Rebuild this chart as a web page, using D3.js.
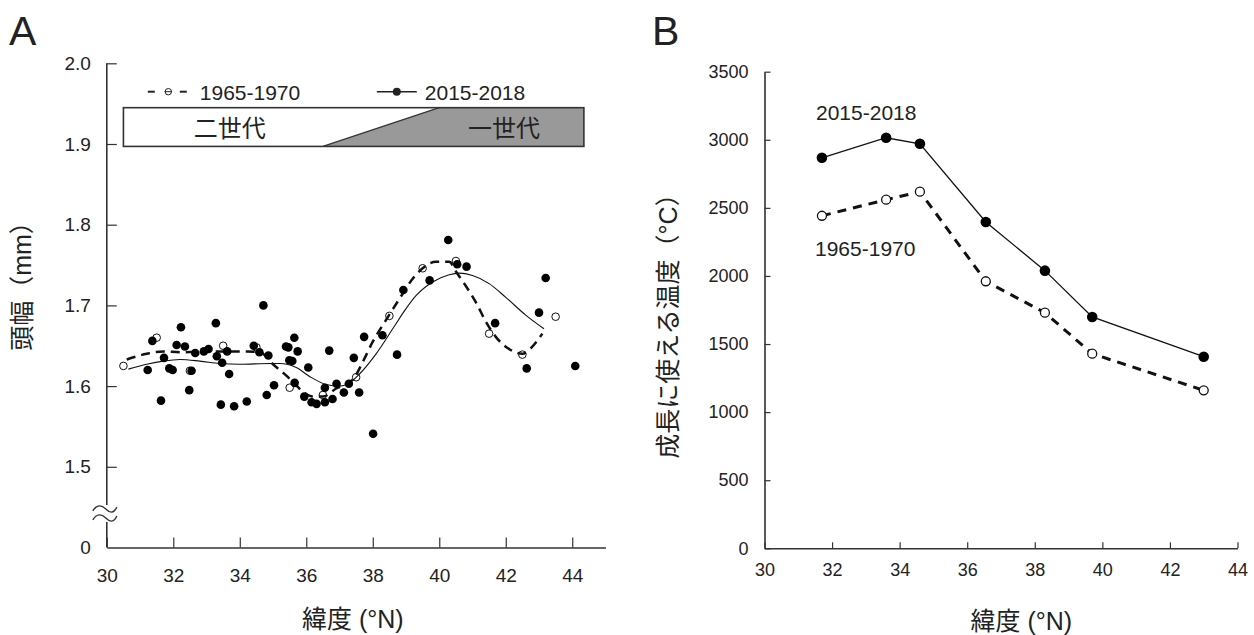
<!DOCTYPE html>
<html>
<head>
<meta charset="utf-8">
<script src="https://cdn.jsdelivr.net/npm/d3@7"></script>
<style>
  body { margin: 0; background: #fff; }
  svg { font-family: "Liberation Sans", Arial, "Noto Sans CJK JP", sans-serif; }
  .ja { font-family: "Liberation Sans", "Noto Sans CJK JP", sans-serif; }
</style>
</head>
<body>
<div id="chart"></div>
<script>
// ---- panel A data: head width (mm) vs latitude ----
const openLat = [30.5, 31.5, 32.5, 33.5, 34.5, 35.5, 36.5, 37.5, 38.5, 39.5, 40.5, 41.5, 42.5, 43.5];
const openVal = [1.625, 1.660, 1.619, 1.650, 1.648, 1.598, 1.589, 1.611, 1.687, 1.746, 1.755, 1.665, 1.639, 1.686];

const filledLat = [31.23, 31.37, 31.63, 31.72, 31.88, 31.98, 32.10, 32.23, 32.35, 32.48, 32.55, 32.66, 32.92, 33.06,
  33.28, 33.31, 33.43, 33.47, 33.62, 33.68, 33.83, 34.21, 34.42, 34.59, 34.71, 34.81, 34.86, 35.03, 35.39, 35.46,
  35.49, 35.58, 35.64, 35.65, 35.74, 35.94, 36.06, 36.16, 36.31, 36.56, 36.56, 36.69, 36.79, 36.91, 37.13, 37.28,
  37.43, 37.59, 37.74, 38.01, 38.29, 38.73, 38.92, 39.71, 40.27, 40.54, 40.82, 41.68, 42.63, 43.00, 43.20, 44.09];
const filledVal = [1.620, 1.656, 1.582, 1.635, 1.622, 1.620, 1.651, 1.673, 1.649, 1.595, 1.619, 1.641, 1.643, 1.646,
  1.678, 1.637, 1.577, 1.629, 1.643, 1.615, 1.575, 1.581, 1.650, 1.642, 1.700, 1.589, 1.638, 1.601, 1.649, 1.648,
  1.632, 1.631, 1.660, 1.604, 1.643, 1.587, 1.623, 1.580, 1.578, 1.598, 1.580, 1.644, 1.584, 1.603, 1.592, 1.603,
  1.635, 1.592, 1.661, 1.541, 1.663, 1.639, 1.719, 1.731, 1.781, 1.751, 1.748, 1.678, 1.622, 1.691, 1.734, 1.625];

// fitted curves
const fit1965Lat = [30.6, 31.2, 31.7, 32.2, 33.2, 34.2, 34.6, 35.0, 35.4, 35.6, 35.9, 36.2, 36.5, 36.9, 37.4, 37.7,
  38.0, 38.4, 38.8, 39.2, 39.5, 39.9, 40.3, 40.5, 40.8, 41.1, 41.4, 41.7, 42.1, 42.5, 42.8, 43.1];
const fit1965Val = [1.633, 1.640, 1.643, 1.642, 1.643, 1.643, 1.642, 1.627, 1.613, 1.605, 1.593, 1.587, 1.587, 1.597,
  1.608, 1.630, 1.655, 1.682, 1.708, 1.733, 1.746, 1.754, 1.754, 1.742, 1.724, 1.704, 1.680, 1.661, 1.646, 1.640,
  1.649, 1.665];
const fit2015Lat = [30.65, 31.2, 31.7, 32.2, 32.8, 33.4, 34.0, 34.9, 35.2, 35.7, 36.1, 36.6, 37.0, 37.3, 37.6, 38.1,
  38.6, 39.0, 39.3, 39.8, 40.3, 40.6, 41.0, 41.5, 42.0, 42.6, 43.15];
const fit2015Val = [1.621, 1.627, 1.631, 1.633, 1.631, 1.628, 1.627, 1.628, 1.628, 1.623, 1.612, 1.602, 1.600, 1.604,
  1.615, 1.640, 1.671, 1.696, 1.712, 1.729, 1.738, 1.740, 1.737, 1.727, 1.710, 1.688, 1.671];

// generation band: two generations -> one generation
const genLabels = ["二世代", "一世代"];
const genBand = [30.5, 44.35];
const genTransition = [36.5, 40.0];

const aXTicks = [30, 32, 34, 36, 38, 40, 42, 44];
const aYTicks = [1.4, 1.5, 1.6, 1.7, 1.8, 1.9, 2.0];   // 1.4 is shown as "0" under the axis break

// ---- panel B data: growing degree temperature vs latitude ----
const bLat = [31.7, 33.6, 34.6, 36.55, 38.3, 39.7, 43.0];
const gdd2015 = [2868, 3015, 2971, 2396, 2039, 1699, 1407];
const gdd1965 = [2442, 2560, 2619, 1961, 1730, 1429, 1160];
const bXTicks = [30, 32, 34, 36, 38, 40, 42, 44];
const bYTicks = [0, 500, 1000, 1500, 2000, 2500, 3000, 3500];

const seriesNames = ["1965-1970", "2015-2018"];

const svg = d3.select("#chart").append("svg")
  .attr("width", 1254)
  .attr("height", 635);

const ink = "#222";
const axisCol = "#333";

// panel letters
svg.append("text").attr("x", 9).attr("y", 45).attr("font-size", 41).attr("fill", ink).text("A");
svg.append("text").attr("x", 652).attr("y", 45).attr("font-size", 41).attr("fill", ink).text("B");

// ================= Panel A =================
const A = { left: 106.8, top: 63.3, width: 498.7, height: 484.2 };
const gA = svg.append("g").attr("transform", `translate(${A.left},${A.top})`);

const xA = d3.scaleLinear().domain([30, 45]).range([0, A.width]);
const yA = d3.scaleLinear().domain([1.4, 2.0]).range([A.height, 0]);

// x axis
const xAxisA = gA.append("g")
  .attr("transform", `translate(0,${A.height})`)
  .call(d3.axisBottom(xA).tickValues(aXTicks).tickSizeInner(-10).tickSizeOuter(0).tickPadding(21).tickFormat(d3.format("d")));
xAxisA.select(".domain").attr("stroke", axisCol).attr("stroke-width", 1.6);
xAxisA.selectAll(".tick line").attr("stroke", axisCol).attr("stroke-width", 1.2);
xAxisA.selectAll(".tick text").attr("font-size", 19).attr("fill", ink);

// y axis (with break)
const yAxisA = gA.append("g")
  .call(d3.axisLeft(yA).tickValues(aYTicks).tickSizeInner(-10).tickSizeOuter(0).tickPadding(16)
    .tickFormat(d => d === 1.4 ? "0" : d3.format(".1f")(d)));
yAxisA.select(".domain").remove();
yAxisA.selectAll(".tick line").attr("stroke", axisCol).attr("stroke-width", 1.2)
  .filter(d => d === 1.4).remove();
yAxisA.selectAll(".tick text").attr("font-size", 19).attr("fill", ink);

const brkTop = yA(1.4527), brkBot = yA(1.4316);
gA.append("line").attr("x1", 0).attr("x2", 0).attr("y1", yA(2.0)).attr("y2", brkTop)
  .attr("stroke", axisCol).attr("stroke-width", 1.6);
gA.append("line").attr("x1", 0).attr("x2", 0).attr("y1", brkBot).attr("y2", A.height)
  .attr("stroke", axisCol).attr("stroke-width", 1.6);
[brkTop + 4, brkTop + 13].forEach(yy => {
  gA.append("path")
    .attr("d", `M-14,${yy + 2} C-10,${yy - 5} -5,${yy - 4} -1,${yy} S7,${yy + 5} 10,${yy - 2}`)
    .attr("fill", "none").attr("stroke", axisCol).attr("stroke-width", 1.4);
});

// generation band
const bandTop = yA(1.945), bandBot = yA(1.897);
gA.append("rect")
  .attr("x", xA(genBand[0])).attr("y", bandTop)
  .attr("width", xA(genBand[1]) - xA(genBand[0])).attr("height", bandBot - bandTop)
  .attr("fill", "#fff");
gA.append("path")
  .attr("d", d3.line()([
    [xA(genTransition[0]), bandBot], [xA(genTransition[1]), bandTop],
    [xA(genBand[1]), bandTop], [xA(genBand[1]), bandBot]]) + "Z")
  .attr("fill", "#999");
gA.append("rect")
  .attr("x", xA(genBand[0])).attr("y", bandTop)
  .attr("width", xA(genBand[1]) - xA(genBand[0])).attr("height", bandBot - bandTop)
  .attr("fill", "none").attr("stroke", "#333").attr("stroke-width", 1.6);
gA.append("line")
  .attr("x1", xA(genTransition[0])).attr("y1", bandBot)
  .attr("x2", xA(genTransition[1])).attr("y2", bandTop)
  .attr("stroke", "#333").attr("stroke-width", 1.2);
gA.append("text").attr("class", "ja")
  .attr("x", xA(33.7)).attr("y", bandBot - 9)
  .attr("text-anchor", "middle").attr("font-size", 24).attr("fill", ink)
  .text(genLabels[0]);
gA.append("text").attr("class", "ja")
  .attr("x", xA(41.95)).attr("y", bandBot - 9)
  .attr("text-anchor", "middle").attr("font-size", 24).attr("fill", ink)
  .text(genLabels[1]);

// legend
const legY = 91.7 - A.top;
gA.append("line").attr("x1", 41).attr("x2", 48).attr("y1", legY).attr("y2", legY).attr("stroke", ink).attr("stroke-width", 2);
gA.append("line").attr("x1", 73).attr("x2", 80).attr("y1", legY).attr("y2", legY).attr("stroke", ink).attr("stroke-width", 2);
gA.append("line").attr("x1", 58).attr("x2", 65).attr("y1", legY).attr("y2", legY).attr("stroke", ink).attr("stroke-width", 1);
gA.append("circle").attr("cx", 61.5).attr("cy", legY).attr("r", 3.2).attr("fill", "none").attr("stroke", ink).attr("stroke-width", 1);
gA.append("text").attr("x", 93).attr("y", legY + 8).attr("font-size", 21).attr("fill", ink).text(seriesNames[0]);
gA.append("line").attr("x1", 270).attr("x2", 310).attr("y1", legY).attr("y2", legY).attr("stroke", ink).attr("stroke-width", 1.4);
gA.append("circle").attr("cx", 290).attr("cy", legY).attr("r", 4).attr("fill", ink);
gA.append("text").attr("x", 318).attr("y", legY + 8).attr("font-size", 21).attr("fill", ink).text(seriesNames[1]);

// fitted curves
const lineA = d3.line().x(d => xA(d[0])).y(d => yA(d[1])).curve(d3.curveMonotoneX);
gA.append("path")
  .attr("d", lineA(d3.zip(fit1965Lat, fit1965Val)))
  .attr("fill", "none").attr("stroke", "#111").attr("stroke-width", 2.5).attr("stroke-dasharray", "9,6");
gA.append("path")
  .attr("d", lineA(d3.zip(fit2015Lat, fit2015Val)))
  .attr("fill", "none").attr("stroke", "#111").attr("stroke-width", 1.1);

// points
gA.append("g").selectAll("circle")
  .data(d3.zip(openLat, openVal))
  .join("circle")
    .attr("cx", d => xA(d[0])).attr("cy", d => yA(d[1])).attr("r", 3.8)
    .attr("fill", "none").attr("stroke", "#111").attr("stroke-width", 1);
gA.append("g").selectAll("circle")
  .data(d3.zip(filledLat, filledVal))
  .join("circle")
    .attr("cx", d => xA(d[0])).attr("cy", d => yA(d[1])).attr("r", 4.3)
    .attr("fill", "#000");

// axis titles
svg.append("text").attr("class", "ja")
  .attr("x", A.left + xA(37.4)).attr("y", 628)
  .attr("text-anchor", "middle").attr("font-size", 25).attr("fill", ink)
  .text("緯度 (°N)");
svg.append("text").attr("class", "ja")
  .attr("transform", "translate(31,280) rotate(-90)")
  .attr("text-anchor", "middle").attr("font-size", 25).attr("fill", ink)
  .text("頭幅（mm）");

// ================= Panel B =================
const B = { left: 764.5, top: 71.7, width: 473, height: 476.6 };
const gB = svg.append("g").attr("transform", `translate(${B.left},${B.top})`);

const xB = d3.scaleLinear().domain([30, 44]).range([0, B.width]);
const yB = d3.scaleLinear().domain([0, 3500]).range([B.height, 0]);

const xAxisB = gB.append("g")
  .attr("transform", `translate(0,${B.height})`)
  .call(d3.axisBottom(xB).tickValues(bXTicks).tickSizeInner(-6).tickSizeOuter(0).tickPadding(15).tickFormat(d3.format("d")));
xAxisB.select(".domain").attr("stroke", axisCol).attr("stroke-width", 1.6);
xAxisB.selectAll(".tick line").attr("stroke", axisCol).attr("stroke-width", 1.2);
xAxisB.selectAll(".tick text").attr("font-size", 18).attr("fill", ink);

const yAxisB = gB.append("g")
  .call(d3.axisLeft(yB).tickValues(bYTicks).tickSizeInner(-6).tickSizeOuter(0).tickPadding(16).tickFormat(d3.format("d")));
yAxisB.select(".domain").attr("stroke", axisCol).attr("stroke-width", 1.6);
yAxisB.selectAll(".tick line").attr("stroke", axisCol).attr("stroke-width", 1.2);
yAxisB.selectAll(".tick text").attr("font-size", 18).attr("fill", ink);

const lineB = d3.line().x(d => xB(d[0])).y(d => yB(d[1]));
gB.append("path")
  .attr("d", lineB(d3.zip(bLat, gdd1965)))
  .attr("fill", "none").attr("stroke", "#111").attr("stroke-width", 3).attr("stroke-dasharray", "9,7");
gB.append("path")
  .attr("d", lineB(d3.zip(bLat, gdd2015)))
  .attr("fill", "none").attr("stroke", "#111").attr("stroke-width", 1.3);

gB.append("g").selectAll("circle")
  .data(d3.zip(bLat, gdd1965))
  .join("circle")
    .attr("cx", d => xB(d[0])).attr("cy", d => yB(d[1])).attr("r", 4.5)
    .attr("fill", "#fff").attr("stroke", "#111").attr("stroke-width", 1.3);
gB.append("g").selectAll("circle")
  .data(d3.zip(bLat, gdd2015))
  .join("circle")
    .attr("cx", d => xB(d[0])).attr("cy", d => yB(d[1])).attr("r", 5.3)
    .attr("fill", "#000");

// series labels
svg.append("text").attr("x", 816).attr("y", 120).attr("font-size", 21).attr("fill", ink).text(seriesNames[1]);
svg.append("text").attr("x", 815).attr("y", 256).attr("font-size", 21).attr("fill", ink).text(seriesNames[0]);

svg.append("text").attr("class", "ja")
  .attr("x", B.left + xB(37.6)).attr("y", 630)
  .attr("text-anchor", "middle").attr("font-size", 25).attr("fill", ink)
  .text("緯度 (°N)");
svg.append("text").attr("class", "ja")
  .attr("transform", "translate(677,320) rotate(-90)")
  .attr("text-anchor", "middle").attr("font-size", 25).attr("fill", ink)
  .text("成長に使える温度（°C）");
</script>
</body>
</html>
